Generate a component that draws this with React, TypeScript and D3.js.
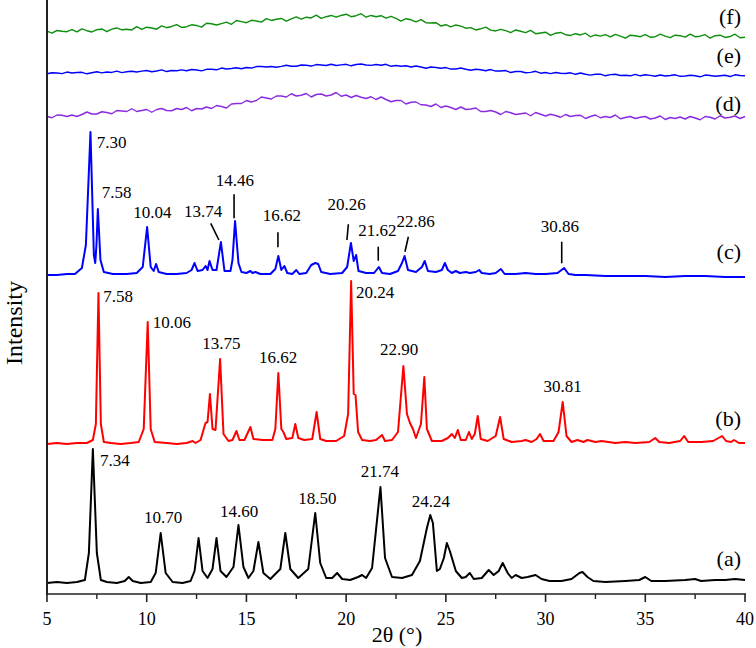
import React from "react";
import * as d3 from "d3";

// ---------- DATA (2θ in degrees, intensity in a.u. above each pattern's baseline) ----------
const X_TICKS = [5, 10, 15, 20, 25, 30, 35, 40];
const X_MINOR = [7.5, 12.5, 17.5, 22.5, 27.5, 32.5, 37.5];

const SERIES_NAMES = ["(a)", "(b)", "(c)", "(d)", "(e)", "(f)"];
const SERIES_COLORS = ["#000000", "#ff0000", "#0000ff", "#8a2be2", "#0000ff", "#0f8f0f"];
const SERIES_OFFSETS = [11, 150, 319, 477, 520.7, 562.3];

const PATTERN_A: [number, number][] = [
  [5, 0], [5.5, 1], [6, 0], [6.5, 1], [6.7, 2], [6.9, 3], [7.1, 30], [7.3, 134], [7.5, 30], [7.7, 3],
  [8, 1], [8.5, 0], [8.9, 2], [9.1, 6], [9.3, 2], [9.7, 0], [10.2, 1], [10.45, 10], [10.7, 50], [10.95, 10],
  [11.3, 1], [11.8, 0], [12.2, 2], [12.4, 12], [12.6, 45], [12.8, 12], [13.05, 5], [13.3, 14], [13.5, 45],
  [13.7, 12], [14.0, 6], [14.35, 16], [14.6, 58], [14.85, 16], [15.1, 5], [15.35, 12], [15.6, 41], [15.85, 10],
  [16.2, 4], [16.7, 14], [16.95, 50], [17.2, 14], [17.6, 5], [18.1, 14], [18.45, 70], [18.7, 20], [19.0, 5],
  [19.3, 5], [19.55, 10], [19.8, 4], [20.2, 3], [20.6, 6], [20.8, 8], [21.0, 5], [21.3, 15], [21.72, 96],
  [21.95, 25], [22.3, 6], [22.8, 5], [23.3, 8], [23.7, 22], [24.05, 55], [24.22, 68], [24.35, 60], [24.55, 12],
  [24.7, 14], [24.9, 25], [25.05, 40], [25.2, 32], [25.5, 12], [25.8, 5], [26.0, 6], [26.2, 10], [26.4, 4],
  [26.8, 5], [27.15, 13], [27.4, 8], [27.65, 12], [27.85, 20], [28.1, 10], [28.3, 5], [28.5, 8], [28.8, 5],
  [29.1, 6], [29.5, 8], [29.8, 4], [30.2, 2], [30.8, 2], [31.3, 4], [31.7, 10], [31.85, 11], [32.1, 6],
  [32.4, 2], [33, 1], [34, 2], [34.7, 3], [35, 6], [35.3, 2], [36, 2], [37, 3], [37.5, 4], [37.8, 2],
  [38.5, 3], [39, 3], [39.5, 4], [40, 3],
];

const PATTERN_B: [number, number][] = [
  [5, 0], [5.5, 1], [6, 0], [6.5, 1], [7, 1], [7.3, 4], [7.45, 20], [7.58, 151], [7.7, 20], [7.85, 2],
  [8.2, 1], [8.7, 0], [9.2, 1], [9.6, 2], [9.85, 15], [10.05, 122], [10.2, 15], [10.4, 2], [11, 1], [11.5, 0],
  [12.0, 1], [12.3, 3], [12.45, 1], [12.7, 4], [12.95, 21], [13.05, 22], [13.17, 50], [13.3, 15], [13.45, 14],
  [13.68, 85], [13.85, 10], [14.1, 3], [14.3, 4], [14.5, 13], [14.65, 4], [14.9, 4], [15.2, 17], [15.35, 5],
  [15.8, 4], [16.3, 4], [16.45, 15], [16.6, 71], [16.75, 15], [16.85, 12], [17.0, 5], [17.3, 6], [17.45, 20],
  [17.6, 6], [17.9, 4], [18.3, 5], [18.52, 32], [18.7, 5], [19.0, 3], [19.5, 3], [19.9, 8], [20.1, 30],
  [20.25, 163], [20.38, 50], [20.47, 49], [20.6, 12], [20.8, 4], [21.2, 3], [21.5, 4], [21.8, 9], [21.95, 3],
  [22.3, 4], [22.6, 12], [22.87, 78], [23.05, 30], [23.2, 21], [23.35, 15], [23.5, 6], [23.75, 20], [23.92, 67],
  [24.05, 15], [24.3, 3], [24.8, 3], [25.1, 6], [25.3, 10], [25.45, 6], [25.6, 14], [25.75, 4], [26.0, 4],
  [26.16, 12], [26.3, 5], [26.45, 10], [26.6, 28], [26.75, 5], [27.1, 3], [27.5, 8], [27.72, 27], [27.9, 5],
  [28.3, 2], [28.8, 3], [29.0, 4], [29.3, 2], [29.55, 5], [29.72, 10], [29.9, 3], [30.4, 3], [30.65, 12],
  [30.86, 42], [31.05, 8], [31.3, 2], [31.6, 4], [31.9, 2], [32.1, 4], [32.5, 2], [32.8, 3], [33.5, 1],
  [34.0, 2], [34.5, 1], [35.2, 2], [35.5, 6], [35.7, 2], [36.2, 1], [36.75, 3], [36.95, 8], [37.15, 2],
  [37.8, 2], [38.4, 3], [38.85, 8], [39.05, 3], [39.3, 2], [39.45, 4], [39.7, 1], [40, 1],
];

const PATTERN_C: [number, number][] = [
  [5, 0], [5.5, 0], [6, 1], [6.4, 1], [6.75, 7], [6.95, 30], [7.18, 143], [7.35, 20], [7.42, 12], [7.48, 30],
  [7.55, 66], [7.68, 15], [7.85, 3], [8.3, 1], [9.0, 1], [9.5, 2], [9.8, 8], [10.02, 48], [10.2, 8], [10.35, 4],
  [10.47, 11], [10.6, 3], [11, 1], [11.5, 1], [12.0, 2], [12.25, 5], [12.4, 12], [12.55, 4], [12.8, 5],
  [12.95, 9], [13.05, 5], [13.15, 14], [13.3, 5], [13.5, 5], [13.72, 33], [13.9, 4], [14.2, 4], [14.3, 15],
  [14.43, 54], [14.6, 12], [14.75, 3], [15.0, 2], [15.2, 4], [15.3, 2], [15.45, 3], [15.7, 1], [16.2, 1],
  [16.45, 6], [16.6, 19], [16.75, 5], [16.9, 9], [17.05, 2], [17.3, 1], [17.5, 5], [17.65, 1], [18.0, 2],
  [18.25, 10], [18.45, 12], [18.6, 11], [18.75, 3], [19.2, 1], [19.8, 2], [20.05, 8], [20.24, 32], [20.38, 14],
  [20.5, 20], [20.62, 4], [21.0, 2], [21.4, 2], [21.64, 8], [21.8, 2], [22.2, 1], [22.6, 4], [22.8, 12],
  [22.93, 19], [23.1, 5], [23.3, 4], [23.5, 3], [23.8, 8], [23.94, 14], [24.1, 4], [24.5, 3], [24.8, 5],
  [24.95, 12], [25.1, 5], [25.3, 2], [25.5, 4], [25.7, 2], [26.0, 3], [26.2, 2], [26.5, 3], [26.67, 5],
  [26.8, 2], [27.2, 1], [27.5, 2], [27.76, 6], [27.95, 1], [28.5, 1], [29.0, 2], [29.5, 1], [30.0, 1],
  [30.6, 2], [30.93, 7], [31.15, 1], [31.5, 0], [32, 0], [33, -1], [34, -1], [35, -1], [36, -2], [37, -1],
  [38, -1], [39, -2], [40, -2],
];

// Amorphous patterns (d), (e), (f): read every 0.25° from 5° to 40°
const AMORPHOUS_2THETA = [
  5, 5.25, 5.5, 5.75, 6, 6.25, 6.5, 6.75, 7, 7.25, 7.5, 7.75, 8, 8.25, 8.5, 8.75, 9, 9.25, 9.5, 9.75,
  10, 10.25, 10.5, 10.75, 11, 11.25, 11.5, 11.75, 12, 12.25, 12.5, 12.75, 13, 13.25, 13.5, 13.75, 14, 14.25, 14.5, 14.75,
  15, 15.25, 15.5, 15.75, 16, 16.25, 16.5, 16.75, 17, 17.25, 17.5, 17.75, 18, 18.25, 18.5, 18.75, 19, 19.25, 19.5, 19.75,
  20, 20.25, 20.5, 20.75, 21, 21.25, 21.5, 21.75, 22, 22.25, 22.5, 22.75, 23, 23.25, 23.5, 23.75, 24, 24.25, 24.5, 24.75,
  25, 25.25, 25.5, 25.75, 26, 26.25, 26.5, 26.75, 27, 27.25, 27.5, 27.75, 28, 28.25, 28.5, 28.75, 29, 29.25, 29.5, 29.75,
  30, 30.25, 30.5, 30.75, 31, 31.25, 31.5, 31.75, 32, 32.25, 32.5, 32.75, 33, 33.25, 33.5, 33.75, 34, 34.25, 34.5, 34.75,
  35, 35.25, 35.5, 35.75, 36, 36.25, 36.5, 36.75, 37, 37.25, 37.5, 37.75, 38, 38.25, 38.5, 38.75, 39, 39.25, 39.5, 39.75,
  40,
];
const INTENSITY_D = [
  0.5, -0.75, 2, 1.75, 0.5, 2, 0.5, 2.5, 5, 3, 3, 5.25, 4.5, 3.25, 6.5, 6, 5.5, 8.25, 5.5, 6.5,
  7.5, 4.75, 7.5, 8.5, 6.5, 6.25, 8.5, 7.5, 9.5, 6.25, 8.5, 8, 10, 8.5, 11.5, 10.5, 9, 13, 13.5, 13.5,
  16.5, 15, 16.5, 20, 19, 18, 21, 21, 20, 23.25, 21, 21.75, 23.5, 20, 22.5, 23, 21, 22, 24.5, 20.75,
  22, 19.5, 21.5, 19.75, 18.5, 20.25, 17.5, 20, 17.5, 15.25, 16.5, 16.5, 13, 14.75, 15, 12.25, 12, 10.5, 13, 9.5,
  11, 9.5, 7.5, 10, 7.5, 8, 9, 5.5, 5.5, 6.5, 5, 2.5, 5.5, 4.25, 2.5, 3.25, 4, 1.25, 4.5, 2.75,
  1, 2.75, 1.5, -0.25, 2.5, 0.5, 1.5, 1.75, -1.5, 0.5, 2, -0.75, 0.5, -0.5, 2, -1.75, -0.5, 0.5, -1.5, -0.25,
  0.5, -2, -1, 1, -2.5, -0.5, -1.5, 0, -2, 0.5, -1, -2.75, 0.5, -0.25, -2, 1.25, -1, -0.25, 1, -1.5,
  0.5,
];
const INTENSITY_E = [
  -0.5, 0.6, 0.25, -0.35, 1.25, 0.25, 0.75, 1, -0.5, 0.6, 1.5, 0.4, 1.25, 0.85, 2.25, 0.65, 1.5, 2.1, 1.25, 2.15,
  2.75, 1.6, 2.25, 3.4, 1.75, 2.85, 2.5, 3.4, 2.5, 3.85, 3.25, 2.4, 4, 4, 3.5, 5.25, 4.25, 4.75, 5.5, 4.5,
  5.75, 5.25, 6.75, 6.75, 6.25, 6.85, 6, 6.9, 8, 7, 7, 8.25, 8, 7.25, 8.75, 8.25, 7.75, 9.1, 7.75, 8.4,
  9, 7.5, 8.75, 9.25, 8.25, 7.9, 8.75, 8.1, 9, 7, 7.75, 7, 7.5, 6.25, 7.25, 6.25, 5, 6.25, 5.75, 5,
  5.75, 4.25, 4.25, 5.25, 4, 3, 4, 3.5, 2.5, 3.75, 2.25, 2.25, 2.75, 0.75, 1.75, 1.75, 0.5, 0.9, 2, 0.1,
  0.75, -0.35, 0.75, 0.1, -0.25, 0.5, -1, 0.25, -1, -1.85, -1, -0.9, -2.5, -1.35, -1, -2.15, -2, -2.5, -1, -2.5,
  -1.5, -2.1, -3, -1.65, -2.75, -2.25, -1.5, -3, -2.75, -2, -2.5, -3.5, -1.75, -2.25, -3, -2.5, -2, -3.25, -1.5, -2.25,
  -2.5,
];
const INTENSITY_F = [
  0.5, -1.5, 1.25, 0.4, 0, 2.1, -0.25, 2.9, 1, -0.25, 2, 2.75, 0, 2.6, 3.75, 1.9, 2.5, 1.75, 5, 2.25,
  4.5, 3.75, 2.5, 5.75, 4, 5.25, 7, 4.25, 5, 6.9, 6.25, 4.6, 8.5, 7.9, 6.75, 8.1, 9.5, 7.4, 11.25, 10.1,
  9, 11.4, 10.75, 9.6, 13, 11.25, 12.5, 13.25, 10.5, 12.9, 14.75, 12.6, 14.5, 13.75, 16.5, 13.25, 15, 16.25, 14.5, 16.25,
  17.5, 15, 16, 18, 14.5, 16.25, 15, 16, 13.5, 15.4, 13.25, 10.6, 13, 11.9, 9.75, 12.1, 9, 8.75, 9, 5.75,
  7, 4.9, 6.75, 5.6, 3.5, 4.1, 1.75, 2.9, 4.5, 1.6, 0.75, 2.4, 1, -0.9, 1.75, 0.4, -1, 1.25, -2, -1.25,
  -0.5, -3.75, -1.5, -0.75, -3, -3.75, -2, -3.25, -1.5, -5.1, -3.25, -4.4, -3, -5.1, -2.75, -4.4, -6.5, -3.5, -4, -5,
  -3, -5.5, -5, -2.5, -4.5, -6, -3.5, -4, -5.5, -2.5, -5, -4.5, -3, -6.5, -4, -3.5, -5.75, -4.85, -2.5, -6,
  -5.5,
];

const PATTERN_D: [number, number][] = AMORPHOUS_2THETA.map((t, i) => [t, INTENSITY_D[i]]);
const PATTERN_E: [number, number][] = AMORPHOUS_2THETA.map((t, i) => [t, INTENSITY_E[i]]);
const PATTERN_F: [number, number][] = AMORPHOUS_2THETA.map((t, i) => [t, INTENSITY_F[i]]);

const PATTERNS = [PATTERN_A, PATTERN_B, PATTERN_C, PATTERN_D, PATTERN_E, PATTERN_F];

// Peak labels: text, 2θ of text start, absolute intensity of baseline
const LABELS_A: [string, number, number][] = [
  ["7.34", 7.66, 128], ["10.70", 9.86, 70.7], ["14.60", 13.67, 77.3], ["18.50", 17.6, 89.7],
  ["21.74", 20.73, 116.7], ["24.24", 23.29, 86.7],
];
const LABELS_B: [string, number, number][] = [
  ["7.58", 7.82, 292.3], ["10.06", 10.3, 265.7], ["13.75", 12.79, 244.7], ["16.62", 15.63, 230.7],
  ["20.24", 20.49, 295.7], ["22.90", 21.7, 239], ["30.81", 29.89, 202.3],
];
const LABELS_C: [string, number, number][] = [
  ["7.30", 7.49, 445.7], ["7.58", 7.74, 395.7], ["10.04", 9.33, 375.7], ["13.74", 11.87, 377.3],
  ["14.46", 13.46, 408], ["16.62", 15.82, 373], ["20.26", 19.06, 384], ["21.62", 20.61, 358],
  ["22.86", 22.53, 367.3], ["30.86", 29.76, 362.3],
];
// Leader marks for (c): [2θ top, I top, 2θ bottom, I bottom]
const MARKS_C: [number, number, number, number][] = [
  [13.21, 370.7, 13.62, 354], [14.38, 399.7, 14.38, 375.7], [16.58, 361.7, 16.58, 346.7],
  [20.11, 369.7, 20.04, 354], [21.61, 347.3, 21.61, 333.3], [23.12, 357.3, 22.95, 342.3],
  [30.81, 352.3, 30.81, 330.7],
];
// Series name label baselines (absolute intensity)
const NAME_LEVELS = [28, 168, 335, 483, 531, 570];

// ---------- LAYOUT ----------
const W = 756;
const H = 648;
const LEFT = 47;
const RIGHT = 745;
const BOTTOM = 594;
const FONT = "Liberation Serif, Times New Roman, serif";

export default function App() {
  const x = d3.scaleLinear().domain([5, 40]).range([LEFT, RIGHT]);
  const y = d3.scaleLinear().domain([0, BOTTOM]).range([BOTTOM, 0]);

  const lines = PATTERNS.map((pts, i) => {
    const off = SERIES_OFFSETS[i];
    const gen = d3
      .line<[number, number]>()
      .x((d) => x(d[0]))
      .y((d) => y(d[1] + off))
      .curve(d3.curveLinear);
    return gen(pts) || "";
  });

  const labelSets: [[string, number, number][], string][] = [
    [LABELS_A, "a"],
    [LABELS_B, "b"],
    [LABELS_C, "c"],
  ];

  return (
    <svg
      width={W}
      height={H}
      style={{ position: "absolute", left: 0, top: 0, background: "#fff" }}
      fontFamily={FONT}
    >
      <rect x={0} y={0} width={W} height={H} fill="#fff" />
      {lines.map((d, i) => (
        <path
          key={SERIES_NAMES[i]}
          d={d}
          fill="none"
          stroke={SERIES_COLORS[i]}
          strokeWidth={i < 3 ? 2 : 1.4}
          strokeLinejoin="round"
        />
      ))}

      {labelSets.map(([set, k]) =>
        set.map(([t, tx, ty], j) => (
          <text key={k + j} x={x(tx)} y={y(ty)} fontSize={17} fill="#000" fontFamily={FONT}>
            {t}
          </text>
        ))
      )}
      {MARKS_C.map(([x1, y1, x2, y2], j) => (
        <line key={"m" + j} x1={x(x1)} y1={y(y1)} x2={x(x2)} y2={y(y2)} stroke="#000" strokeWidth={1.6} />
      ))}

      {SERIES_NAMES.map((n, i) => (
        <text key={"n" + n} x={741} y={y(NAME_LEVELS[i])} fontSize={22} textAnchor="end" fill="#000" fontFamily={FONT}>
          {n}
        </text>
      ))}

      <line x1={LEFT} y1={0} x2={LEFT} y2={BOTTOM + 1} stroke="#222" strokeWidth={2} />
      <line x1={LEFT - 1} y1={BOTTOM} x2={RIGHT + 1} y2={BOTTOM} stroke="#222" strokeWidth={1.6} />
      {X_TICKS.map((t) => (
        <g key={"t" + t}>
          <line x1={x(t)} x2={x(t)} y1={BOTTOM} y2={BOTTOM + 8} stroke="#222" strokeWidth={1.6} />
          <text x={x(t)} y={625} fontSize={18} textAnchor="middle" fill="#000" fontFamily={FONT}>
            {t}
          </text>
        </g>
      ))}
      {X_MINOR.map((t) => (
        <line key={"mt" + t} x1={x(t)} x2={x(t)} y1={BOTTOM} y2={BOTTOM + 5} stroke="#222" strokeWidth={1.4} />
      ))}
      <text x={397} y={642} fontSize={22} textAnchor="middle" fill="#000" fontFamily={FONT}>
        2θ (°)
      </text>
      <text
        transform="translate(22, 323) rotate(-90)"
        fontSize={24}
        textAnchor="middle"
        fill="#000"
        fontFamily={FONT}
      >
        Intensity
      </text>
    </svg>
  );
}
